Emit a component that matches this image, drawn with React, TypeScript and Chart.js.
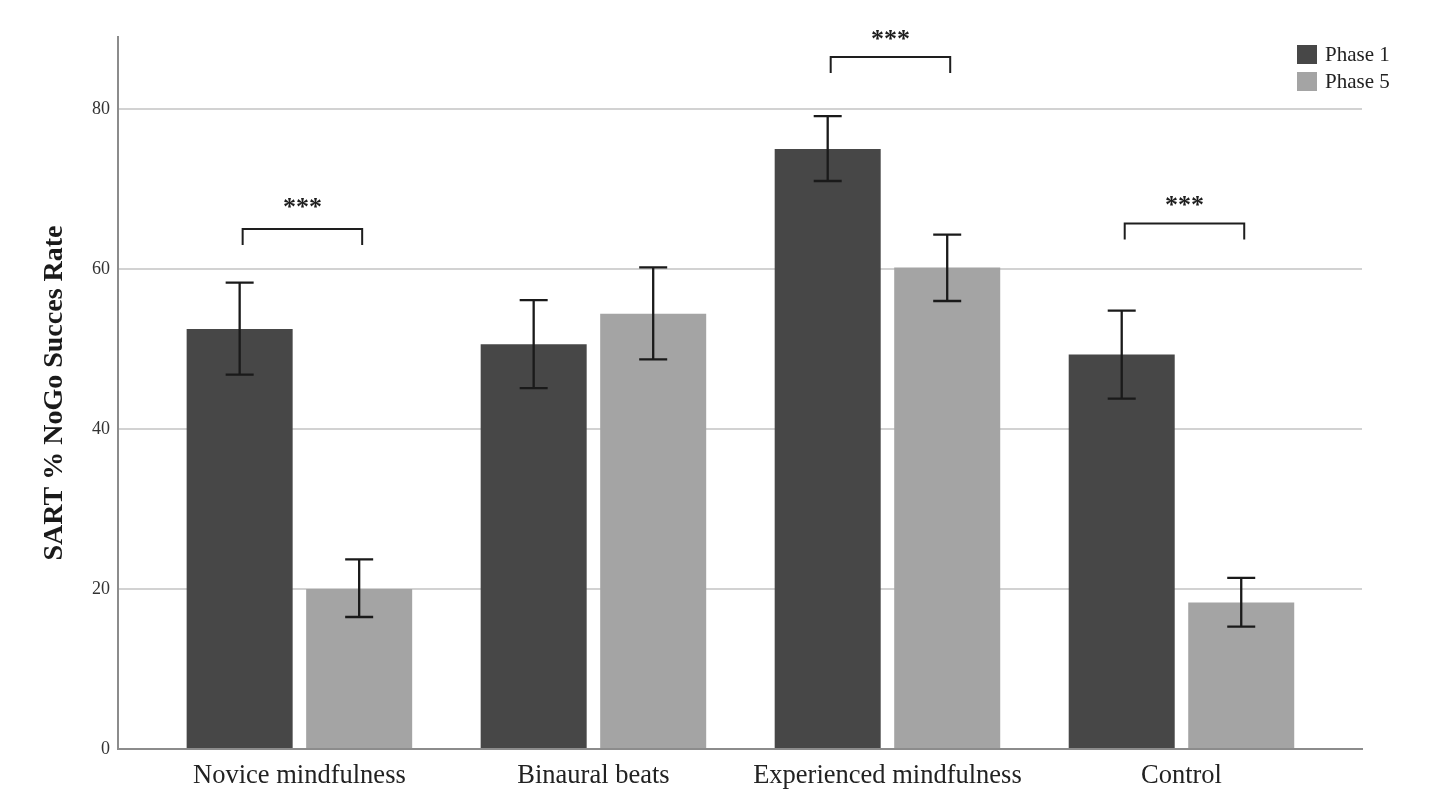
import React, { useEffect, useRef } from "react";
import { Chart, registerables } from "chart.js";

Chart.register(...registerables);

const categories = ["Novice mindfulness", "Binaural beats", "Experienced mindfulness", "Control"];
const seriesNames = ["Phase 1", "Phase 5"];
const seriesColors = ["#474747", "#a4a4a4"];
const phase1 = [52.5, 50.6, 75.0, 49.3];
const phase5 = [20.0, 54.4, 60.2, 18.3];
const phase1Low = [46.8, 45.1, 71.0, 43.8];
const phase1High = [58.3, 56.1, 79.1, 54.8];
const phase5Low = [16.5, 48.7, 56.0, 15.3];
const phase5High = [23.7, 60.2, 64.3, 21.4];
const yTicks = [0, 20, 40, 60, 80];
const sigCategories = [0, 2, 3];
const sigBracketY = [65.0, 86.5, 65.7];
const sigStarY = [68.2, 89.2, 68.5];
const sigLabels = ["***", "***", "***"];

const FONT = "'Liberation Serif', 'Times New Roman', serif";

const errorBarsPlugin = {
  id: "errorBars",
  afterDatasetsDraw(chart: any) {
    const ctx = chart.ctx;
    const y = chart.scales.y;
    const lows = [phase1Low, phase5Low];
    const highs = [phase1High, phase5High];
    ctx.save();
    ctx.strokeStyle = "#1a1a1a";
    ctx.lineWidth = 2.3;
    for (let d = 0; d < 2; d++) {
      const meta = chart.getDatasetMeta(d);
      meta.data.forEach((el: any, i: number) => {
        const x = el.x;
        const yl = y.getPixelForValue(lows[d][i]);
        const yh = y.getPixelForValue(highs[d][i]);
        const cap = 14;
        ctx.beginPath();
        ctx.moveTo(x, yl);
        ctx.lineTo(x, yh);
        ctx.moveTo(x - cap, yl);
        ctx.lineTo(x + cap, yl);
        ctx.moveTo(x - cap, yh);
        ctx.lineTo(x + cap, yh);
        ctx.stroke();
      });
    }
    ctx.restore();
  },
};

const bracketsPlugin = {
  id: "brackets",
  afterDraw(chart: any) {
    const ctx = chart.ctx;
    const y = chart.scales.y;
    const m0 = chart.getDatasetMeta(0);
    const m1 = chart.getDatasetMeta(1);
    ctx.save();
    ctx.strokeStyle = "#1e1e1e";
    ctx.lineWidth = 2;
    ctx.fillStyle = "#1e1e1e";
    sigCategories.forEach((c, k) => {
      const x0 = m0.data[c].x + 3;
      const x1 = m1.data[c].x + 3;
      const yb = y.getPixelForValue(sigBracketY[k]);
      const ye = y.getPixelForValue(sigBracketY[k] - 2);
      ctx.beginPath();
      ctx.moveTo(x0, ye);
      ctx.lineTo(x0, yb);
      ctx.lineTo(x1, yb);
      ctx.lineTo(x1, ye);
      ctx.stroke();
      ctx.font = `bold 26px ${FONT}`;
      ctx.textAlign = "center";
      ctx.textBaseline = "middle";
      ctx.fillText(sigLabels[k], (x0 + x1) / 2, y.getPixelForValue(sigStarY[k]) + 5);
    });
    ctx.restore();
  },
};

const legendPlugin = {
  id: "customLegend",
  afterDraw(chart: any) {
    const ctx = chart.ctx;
    const area = chart.chartArea;
    const bx = area.right - 65;
    const by = area.top + 8;
    ctx.save();
    ctx.font = `21px ${FONT}`;
    ctx.textAlign = "left";
    ctx.textBaseline = "middle";
    seriesNames.forEach((name, i) => {
      const cy = by + i * 27;
      ctx.fillStyle = seriesColors[i];
      ctx.fillRect(bx, cy, 20, 19);
      ctx.fillStyle = "#222";
      ctx.fillText(name, bx + 28, cy + 10);
    });
    ctx.restore();
  },
};

export default function App() {
  const ref = useRef<HTMLCanvasElement | null>(null);
  useEffect(() => {
    if (!ref.current) return;
    const chart = new Chart(ref.current, {
      type: "bar",
      data: {
        datasets: [
          {
            label: seriesNames[0],
            data: phase1.map((v, i) => ({ x: i, y: v })),
            backgroundColor: seriesColors[0],
          },
          {
            label: seriesNames[1],
            data: phase5.map((v, i) => ({ x: i, y: v })),
            backgroundColor: seriesColors[1],
          },
        ],
      },
      options: {
        animation: false,
        responsive: true,
        maintainAspectRatio: false,
        datasets: { bar: { categoryPercentage: 0.813, barPercentage: 0.887 } },
        layout: { padding: { top: 37, right: 92, bottom: 0, left: 0 } },
        plugins: { legend: { display: false }, tooltip: { enabled: false } },
        scales: {
          x: {
            type: "linear",
            offset: false,
            min: -0.617,
            max: 3.614,
            afterBuildTicks: (s: any) => {
              s.ticks = categories.map((_, i) => ({ value: i }));
            },
            afterFit: (s: any) => {
              s.height = 47;
            },
            ticks: {
              callback: (v: any) => categories[v] ?? "",
              font: { family: FONT, size: 26.5 },
              color: "#222",
              padding: 11,
              maxRotation: 0,
              autoSkip: false,
            },
            grid: { display: false, drawTicks: false, offset: false },
            border: { display: true, color: "#8c8c8c", width: 2 },
          },
          y: {
            min: 0,
            max: 89,
            afterBuildTicks: (s: any) => {
              s.ticks = yTicks.map((v) => ({ value: v }));
            },
            afterFit: (s: any) => {
              s.width = 118;
            },
            ticks: {
              font: { family: FONT, size: 18 },
              color: "#333",
              padding: 8,
            },
            grid: { color: "#d2d2d2", lineWidth: 2, drawTicks: false },
            border: { display: true, color: "#8c8c8c", width: 2 },
            title: {
              display: true,
              text: "SART % NoGo Succes Rate",
              font: { family: FONT, size: 28, weight: "bold", lineHeight: 1.2 },
              color: "#1a1a1a",
              padding: { top: 38, bottom: 0 },
            },
          },
        },
      },
      plugins: [errorBarsPlugin, bracketsPlugin, legendPlugin],
    } as any);
    return () => chart.destroy();
  }, []);
  return (
    <div style={{ position: "fixed", left: 0, top: 0, width: 1454, height: 796, background: "#fff" }}>
      <canvas ref={ref} />
    </div>
  );
}
